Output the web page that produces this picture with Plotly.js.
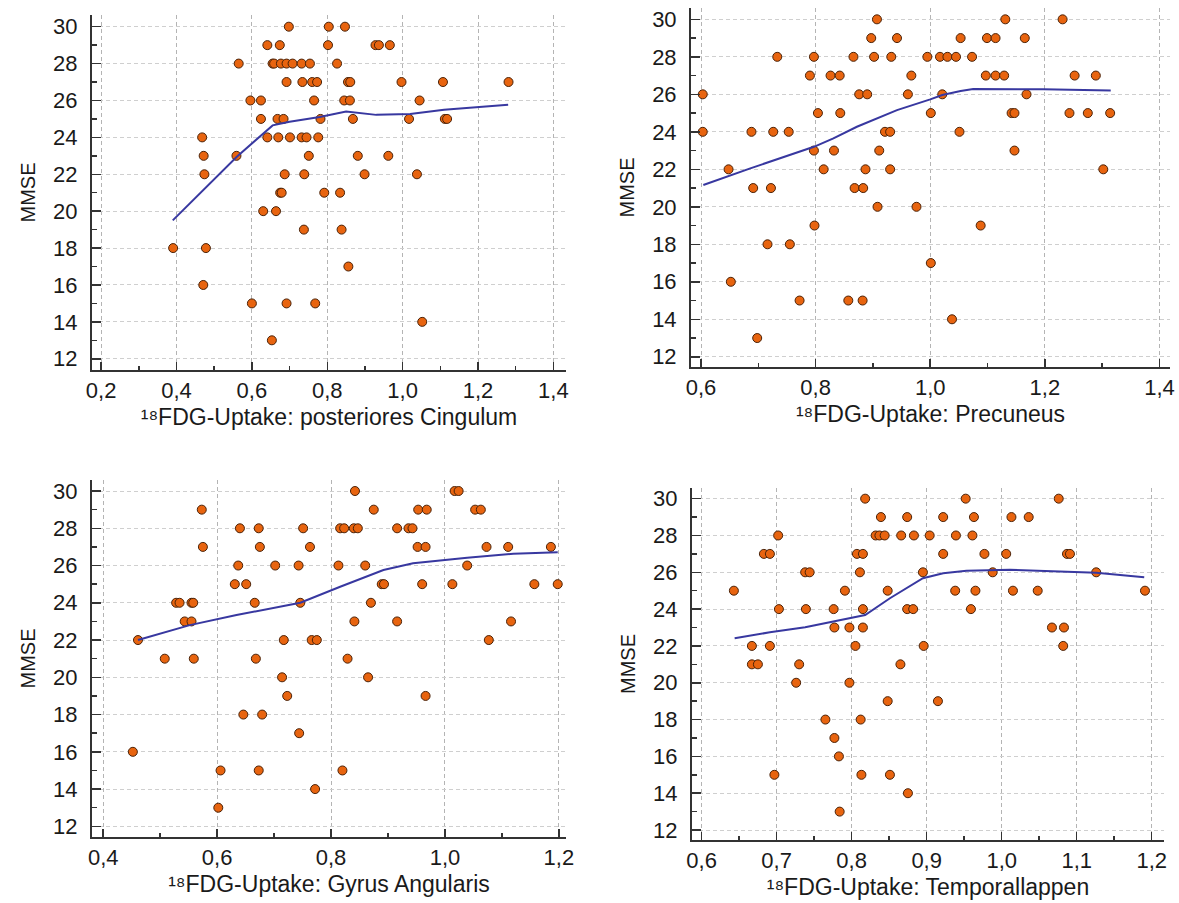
<!DOCTYPE html>
<html>
<head>
<meta charset="utf-8">
<script src="https://cdn.plot.ly/plotly-3.0.1.min.js"></script>
<style>html,body{margin:0;padding:0;background:#fff;}#chart{width:1179px;height:903px;}</style>
</head>
<body>
<div id="chart"></div>
<script>
// ---- Data ----
const cingX = [0.698,0.804,0.847, 0.641,0.674,0.802,0.928,0.937,0.966, 0.565,0.655,0.659,0.677,0.692,0.708,0.732,0.754,0.826, 0.692,0.734,0.760,0.773,0.855,0.861,0.997,1.107,1.281, 0.596,0.624,0.765,0.845,0.860,1.045, 0.624,0.668,0.684,0.782,0.868,1.017,1.112,1.118, 0.468,0.641,0.670,0.701,0.732,0.745,0.776, 0.472,0.559,0.751,0.881,0.962, 0.474,0.687,0.739,0.899,1.038, 0.675,0.679,0.792,0.834, 0.630,0.664, 0.738,0.838, 0.391,0.478, 0.856, 0.471, 0.600,0.692,0.768, 1.052, 0.653];
const cingY = [30,30,30, 29,29,29,29,29,29, 28,28,28,28,28,28,28,28,28, 27,27,27,27,27,27,27,27,27, 26,26,26,26,26,26, 25,25,25,25,25,25,25,25, 24,24,24,24,24,24,24, 23,23,23,23,23, 22,22,22,22,22, 21,21,21,21, 20,20, 19,19, 18,18, 17, 16, 15,15,15, 14, 13];
const cingFitX = [0.39,0.56,0.655,0.70,0.78,0.85,0.93,1.02,1.11,1.28];
const cingFitY = [19.5,22.95,24.65,24.85,25.1,25.4,25.22,25.27,25.5,25.77];

const precX = [0.907,1.131,1.231, 0.897,0.942,1.053,1.099,1.114,1.165, 0.733,0.797,0.866,0.902,0.932,0.995,1.017,1.030,1.045,1.073, 0.790,0.826,0.842,0.967,1.097,1.114,1.129,1.252,1.289, 0.603,0.876,0.890,0.961,1.021,1.168, 0.804,0.843,1.001,1.142,1.147,1.243,1.275,1.314, 0.603,0.688,0.726,0.753,0.921,0.930,1.051, 0.797,0.832,0.911,1.147, 0.648,0.814,0.887,0.930,1.302, 0.691,0.722,0.868,0.883, 0.908,0.976, 0.798,1.088, 0.716,0.755, 1.001, 0.652, 0.772,0.857,0.882, 1.038, 0.698];
const precY = [30,30,30, 29,29,29,29,29,29, 28,28,28,28,28,28,28,28,28,28, 27,27,27,27,27,27,27,27,27, 26,26,26,26,26,26, 25,25,25,25,25,25,25,25, 24,24,24,24,24,24,24, 23,23,23,23, 22,22,22,22,22, 21,21,21,21, 20,20, 19,19, 18,18, 17, 16, 15,15,15, 14, 13];
const precFitX = [0.604,0.686,0.797,0.831,0.872,0.942,1.0,1.021,1.053,1.075,1.197,1.315];
const precFitY = [21.16,22.05,23.2,23.65,24.27,25.16,25.73,25.96,26.18,26.28,26.27,26.21];

const angX = [0.842,1.017,1.024, 0.573,0.875,0.953,0.968,1.053,1.063, 0.640,0.673,0.751,0.816,0.823,0.840,0.847,0.916,0.936,0.943, 0.575,0.675,0.763,0.952,0.966,1.073,1.111,1.186, 0.637,0.702,0.743,0.813,0.860,1.039, 0.631,0.651,0.889,0.893,0.960,1.013,1.157,1.198, 0.528,0.534,0.555,0.558,0.666,0.746,0.870, 0.543,0.555,0.841,0.916,1.116, 0.461,0.717,0.766,0.775,1.077, 0.508,0.559,0.668,0.829, 0.714,0.865, 0.723,0.966, 0.646,0.679, 0.744, 0.452, 0.606,0.673,0.820, 0.772, 0.602];
const angY = [30,30,30, 29,29,29,29,29,29, 28,28,28,28,28,28,28,28,28,28, 27,27,27,27,27,27,27,27, 26,26,26,26,26,26, 25,25,25,25,25,25,25,25, 24,24,24,24,24,24,24, 23,23,23,23,23, 22,22,22,22,22, 21,21,21,21, 20,20, 19,19, 18,18, 17, 16, 15,15,15, 14, 13];
const angFitX = [0.461,0.552,0.634,0.746,0.816,0.892,0.944,1.039,1.12,1.198];
const angFitY = [22.0,22.8,23.34,24.0,24.86,25.76,26.12,26.42,26.63,26.71];

const tempX = [0.818,0.952,1.076, 0.839,0.874,0.922,0.963,1.013,1.036, 0.702,0.832,0.837,0.844,0.866,0.883,0.904,0.939,0.961, 0.683,0.691,0.807,0.815,0.922,0.977,1.006,1.087,1.091, 0.738,0.744,0.811,0.895,0.988,1.126, 0.643,0.791,0.848,0.938,0.965,1.015,1.048,1.191, 0.703,0.739,0.776,0.815,0.874,0.882,0.959, 0.777,0.797,0.815,1.067,1.083, 0.667,0.691,0.805,0.896,1.082, 0.667,0.675,0.730,0.865, 0.726,0.797, 0.848,0.915, 0.765,0.812, 0.777, 0.783, 0.697,0.813,0.851, 0.875, 0.784];
const tempY = [30,30,30, 29,29,29,29,29,29, 28,28,28,28,28,28,28,28,28, 27,27,27,27,27,27,27,27,27, 26,26,26,26,26,26, 25,25,25,25,25,25,25,25, 24,24,24,24,24,24,24, 23,23,23,23,23, 22,22,22,22,22, 21,21,21,21, 20,20, 19,19, 18,18, 17, 16, 15,15,15, 14, 13];
const tempFitX = [0.644,0.691,0.738,0.793,0.818,0.851,0.895,0.922,0.953,1.011,1.073,1.126,1.19];
const tempFitY = [22.42,22.74,23.01,23.47,23.68,24.59,25.68,25.95,26.09,26.14,26.07,25.98,25.73];

const xTitles = ["¹⁸FDG-Uptake: posteriores Cingulum", "¹⁸FDG-Uptake: Precuneus", "¹⁸FDG-Uptake: Gyrus Angularis", "¹⁸FDG-Uptake: Temporallappen"];
const yTitle = "MMSE";

// ---- Styles ----
const FONT = "Liberation Sans, Arial, sans-serif";
const markerStyle = {size: 9, color: '#E8640F', line: {color: '#4a2208', width: 1}};
const lineStyle = {color: '#3838a0', width: 2};

const panels = [
  {x: cingX, y: cingY, fx: cingFitX, fy: cingFitY},
  {x: precX, y: precY, fx: precFitX, fy: precFitY},
  {x: angX, y: angY, fx: angFitX, fy: angFitY},
  {x: tempX, y: tempY, fx: tempFitX, fy: tempFitY}
];

const traces = [];
panels.forEach((p, i) => {
  const xa = i === 0 ? 'x' : 'x' + (i + 1);
  const ya = i === 0 ? 'y' : 'y' + (i + 1);
  traces.push({type: 'scatter', mode: 'markers', x: p.x, y: p.y, xaxis: xa, yaxis: ya, marker: markerStyle, hoverinfo: 'x+y', cliponaxis: false});
  traces.push({type: 'scatter', mode: 'lines', x: p.fx, y: p.fy, xaxis: xa, yaxis: ya, line: lineStyle, hoverinfo: 'skip'});
});

function xAxis(domain, range, dtick, minorDtick, anchor, title) {
  return {
    domain: domain, range: range, anchor: anchor,
    tick0: 0, dtick: dtick, tickformat: '.1f',
    ticks: 'inside', ticklen: 8, tickwidth: 1.5, tickcolor: '#333',
    minor: {dtick: minorDtick, tick0: 0, ticks: 'inside', ticklen: 4, tickwidth: 1.5, tickcolor: '#333', showgrid: false},
    showline: true, linecolor: '#333', linewidth: 2,
    showgrid: true, gridcolor: '#b4b4b4', griddash: '4px,3px', gridwidth: 1,
    zeroline: false,
    tickfont: {family: FONT, size: 22, color: '#1a1a1a'},
    ticklabelstandoff: 0,
    title: {text: title, font: {family: FONT, size: 23, color: '#1a1a1a'}, standoff: 7}
  };
}
function yAxis(domain, range, anchor) {
  return {
    domain: domain, range: range, anchor: anchor,
    tick0: 0, dtick: 2,
    ticks: 'inside', ticklen: 9, tickwidth: 1.5, tickcolor: '#333',
    minor: {dtick: 1, tick0: 0, ticks: 'inside', ticklen: 5, tickwidth: 1.5, tickcolor: '#333', showgrid: false},
    showline: true, linecolor: '#333', linewidth: 2,
    showgrid: true, gridcolor: '#cfcfcf', griddash: '4px,3px', gridwidth: 1,
    zeroline: false,
    tickfont: {family: FONT, size: 22, color: '#1a1a1a'},
    ticklabelstandoff: 8,
    title: {text: yTitle, font: {family: FONT, size: 20, color: '#1a1a1a'}, standoff: 12}
  };
}

const layout = {
  width: 1179, height: 903,
  margin: {l: 0, r: 0, t: 0, b: 0},
  paper_bgcolor: '#ffffff', plot_bgcolor: '#ffffff',
  showlegend: false,
  separators: ',.',
  font: {family: FONT, size: 20, color: '#1a1a1a'},
  xaxis:  xAxis([0.0780, 0.4801], [0.1756, 1.4336], 0.2, 0.1, 'y', xTitles[0]),
  yaxis:  yAxis([0.5903, 0.9834], [11.393, 30.634], 'x'),
  xaxis2: xAxis([0.5861, 0.9924], [0.5825, 1.4185], 0.2, 0.1, 'y2', xTitles[1]),
  yaxis2: yAxis([0.5936, 0.9911], [11.456, 30.603], 'x2'),
  xaxis3: xAxis([0.0780, 0.4801], [0.3802, 1.2126], 0.2, 0.1, 'y3', xTitles[2]),
  yaxis3: yAxis([0.0731, 0.4684], [11.428, 30.59], 'x3'),
  xaxis4: xAxis([0.5869, 0.9873], [0.5871, 1.2164], 0.1, 0.05, 'y4', xTitles[3]),
  yaxis4: yAxis([0.0698, 0.4596], [11.46, 30.58], 'x4')
};

Plotly.newPlot('chart', traces, layout, {displayModeBar: false, staticPlot: true});
</script>
</body>
</html>
